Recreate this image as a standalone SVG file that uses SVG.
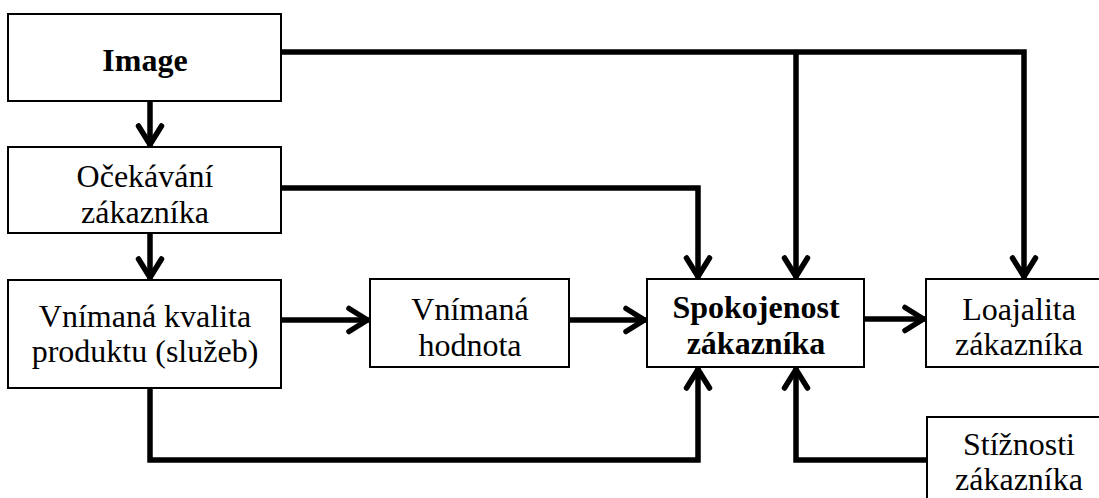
<svg xmlns="http://www.w3.org/2000/svg" width="1099" height="498" viewBox="0 0 1099 498">
<style>
.box{fill:#fff;stroke:#000;stroke-width:2}
.t{font-family:'Liberation Serif','Tinos','Times New Roman',serif;font-size:32px;fill:#000;text-anchor:middle}
.b{font-weight:bold}
.c{fill:none;stroke:#000;stroke-width:5.5;stroke-linejoin:miter}
</style>
<defs>
<marker id="ah" markerUnits="userSpaceOnUse" viewBox="-30 -20 40 40" markerWidth="40" markerHeight="40" refX="0" refY="0" orient="auto" overflow="visible">
<path d="M-21,-11.5 L-2.5,0 L-21,11.5" fill="none" stroke="#000" stroke-width="5.5" stroke-linecap="round" stroke-linejoin="round"/>
</marker>
</defs>
<rect width="1099" height="498" fill="#fff"/>
<g id="connectors">
<path class="c" d="M150,101 V147" marker-end="url(#ah)"/>
<path class="c" d="M150,233 V280" marker-end="url(#ah)"/>
<path class="c" d="M281,320 H370" marker-end="url(#ah)"/>
<path class="c" d="M569,320 H647" marker-end="url(#ah)"/>
<path class="c" d="M864,319 H926" marker-end="url(#ah)"/>
<path class="c" d="M281,52 H1024 V279" marker-end="url(#ah)"/>
<path class="c" d="M796,52 V279" marker-end="url(#ah)"/>
<path class="c" d="M281,188 H698 V279" marker-end="url(#ah)"/>
<path class="c" d="M150,388 V460 H698 V367" marker-end="url(#ah)"/>
<path class="c" d="M927,460 H796 V367" marker-end="url(#ah)"/>
</g>
<g id="image">
<rect class="box" x="8" y="14" width="273" height="87"/>
<text class="t b" x="145" y="71">Image</text>
</g>
<g id="ocekavani">
<rect class="box" x="8" y="147" width="273" height="86"/>
<text class="t" x="145" y="187">Očekávání</text>
<text class="t" x="145" y="223">zákazníka</text>
</g>
<g id="kvalita">
<rect class="box" x="8" y="280" width="273" height="108"/>
<text class="t" x="145" y="327">Vnímaná kvalita</text>
<text class="t" x="145" y="362">produktu (služeb)</text>
</g>
<g id="hodnota">
<rect class="box" x="370" y="279" width="199" height="88"/>
<text class="t" x="470" y="320">Vnímaná</text>
<text class="t" x="470" y="356">hodnota</text>
</g>
<g id="spokojenost">
<rect class="box" x="647" y="279" width="217" height="88"/>
<text class="t b" x="756" y="318">Spokojenost</text>
<text class="t b" x="756" y="354">zákazníka</text>
</g>
<g id="loajalita">
<rect class="box" x="926" y="279" width="186" height="88"/>
<text class="t" x="1019" y="320">Loajalita</text>
<text class="t" x="1019" y="355">zákazníka</text>
</g>
<g id="stiznosti">
<rect class="box" x="927" y="417" width="186" height="95"/>
<text class="t" x="1019" y="455">Stížnosti</text>
<text class="t" x="1019" y="490">zákazníka</text>
</g>
</svg>
